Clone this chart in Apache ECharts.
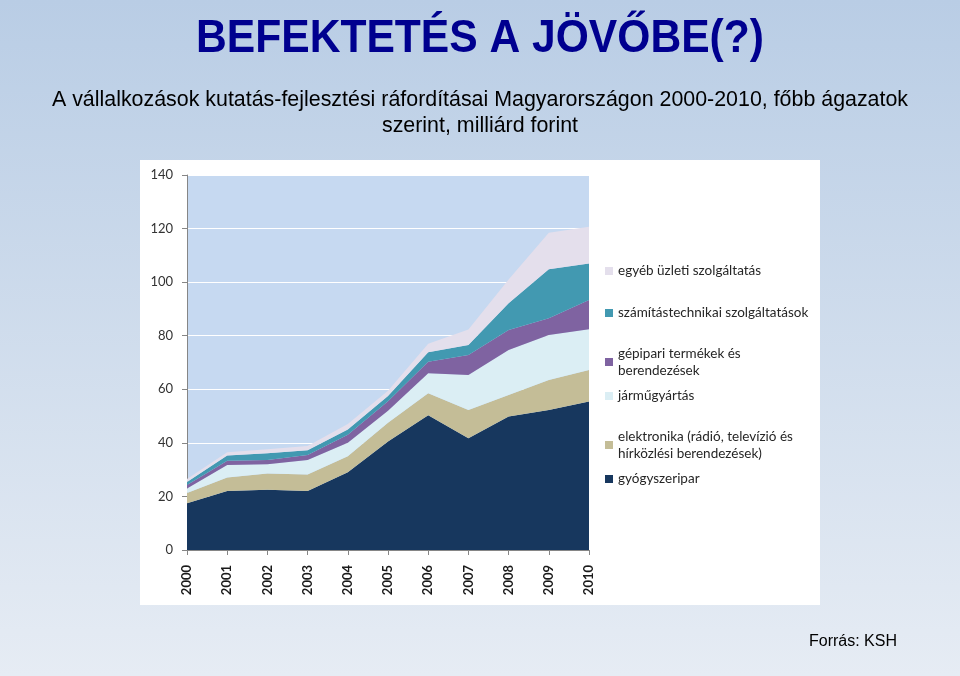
<!DOCTYPE html>
<html>
<head>
<meta charset="utf-8">
<script src="https://cdn.jsdelivr.net/npm/echarts@6/dist/echarts.min.js"></script>
<style>
html,body{margin:0;padding:0;}
#c{width:960px;height:676px;}
</style>
</head>
<body>
<div id="c"></div>
<script>
const years = ['2000','2001','2002','2003','2004','2005','2006','2007','2008','2009','2010'];
const gyogyszeripar = [17.5, 22.0, 22.5, 22.0, 29.0, 40.5, 50.3, 41.7, 49.8, 52.3, 55.4];
const elektronika   = [3.8, 5.1, 6.1, 6.2, 6.0, 7.0, 8.2, 10.6, 8.1, 11.2, 11.8];
const jarmugyartas  = [1.7, 4.6, 3.4, 5.4, 5.0, 4.5, 7.5, 13.0, 16.8, 16.8, 15.2];
const gepipari      = [1.3, 1.6, 1.6, 1.9, 3.0, 3.5, 4.3, 7.5, 7.4, 6.2, 10.9];
const szamitastech  = [1.1, 2.0, 2.5, 1.7, 2.0, 2.0, 3.5, 3.7, 10.0, 18.3, 13.7];
const egyeb         = [1.1, 1.2, 1.5, 1.6, 2.0, 2.0, 3.2, 5.8, 8.9, 13.6, 13.7];
const yTicks = {min: 0, max: 140, interval: 20};

const names = {
  gy: 'gyógyszeripar',
  el: 'elektronika (rádió, televízió és\nhírközlési berendezések)',
  ja: 'járműgyártás',
  ge: 'gépipari termékek és\nberendezések',
  sz: 'számítástechnikai szolgáltatások',
  eg: 'egyéb üzleti szolgáltatás'
};

const seriesDefs = [
  {name: names.gy, data: gyogyszeripar, color: '#17375E'},
  {name: names.el, data: elektronika,   color: '#C4BD97'},
  {name: names.ja, data: jarmugyartas,  color: '#DBEEF4'},
  {name: names.ge, data: gepipari,      color: '#7F63A1'},
  {name: names.sz, data: szamitastech,  color: '#4299B1'},
  {name: names.eg, data: egyeb,         color: '#E4DFEC'}
];

const FONT = 'Lato';
// legend positions: first-line center y
const legendPos = [
  {n: names.eg, y: 270, two: false},
  {n: names.sz, y: 312, two: false},
  {n: names.ge, y: 353, two: true},
  {n: names.ja, y: 395, two: false},
  {n: names.el, y: 436, two: true},
  {n: names.gy, y: 478, two: false}
];
const LH = 17;
const legends = legendPos.map(p => ({
  orient: 'vertical',
  left: 600,
  top: p.two ? p.y - 21.5 : p.y - 12.5,
  itemWidth: 8, itemHeight: 8, itemGap: 0,
  icon: 'rect',
  selectedMode: false,
  data: [p.n],
  textStyle: {
    fontFamily: FONT, fontSize: 13.5, color: '#262626', lineHeight: LH,
    padding: p.two ? [LH, 0, 0, 0] : [0, 0, 0, 0]
  }
}));

const chart = echarts.init(document.getElementById('c'));
chart.setOption({
  animation: false,
  backgroundColor: {
    type: 'linear', x: 0, y: 0, x2: 0, y2: 1,
    colorStops: [{offset: 0, color: '#B9CDE5'}, {offset: 1, color: '#E6ECF4'}]
  },
  graphic: [
    {type: 'rect', z: -10, shape: {x: 140, y: 160, width: 680, height: 445}, style: {fill: '#FFFFFF'}},
    {type: 'text', x: 480, y: 39, scaleX: 0.906,
      style: {text: 'BEFEKTETÉS A JÖVŐBE(?)', font: 'bold 47px "Liberation Sans", Arial', fill: '#00008F', align: 'center', verticalAlign: 'middle'}},
    {type: 'text', x: 480, y: 100,
      style: {text: 'A vállalkozások kutatás-fejlesztési ráfordításai Magyarországon 2000-2010, főbb ágazatok', font: '21.4px "Liberation Sans", Arial', fill: '#000000', align: 'center', verticalAlign: 'middle'}},
    {type: 'text', x: 480, y: 126,
      style: {text: 'szerint, milliárd forint', font: '21.4px "Liberation Sans", Arial', fill: '#000000', align: 'center', verticalAlign: 'middle'}},
    {type: 'text', x: 897, y: 642,
      style: {text: 'Forrás: KSH', font: '16px "Liberation Sans", Arial', fill: '#000000', align: 'right', verticalAlign: 'middle'}}
  ],
  grid: {left: 187, right: 371, top: 175, bottom: 126, show: true, backgroundColor: '#C6D9F1', borderWidth: 0},
  legend: legends,
  xAxis: {
    type: 'category', data: years, boundaryGap: false,
    axisLine: {show: true, lineStyle: {color: '#868686'}},
    axisTick: {show: true, length: 5, lineStyle: {color: '#868686'}},
    axisLabel: {rotate: 90, fontFamily: FONT, fontWeight: 'bold', fontSize: 13, color: '#1A1A1A', margin: 15},
    splitLine: {show: false}
  },
  yAxis: {
    type: 'value', min: yTicks.min, max: yTicks.max, interval: yTicks.interval,
    axisLine: {show: true, lineStyle: {color: '#868686'}},
    axisTick: {show: true, length: 5, lineStyle: {color: '#868686'}},
    axisLabel: {fontFamily: FONT, fontSize: 13, color: '#333333', margin: 14},
    splitLine: {show: true, lineStyle: {color: '#FFFFFF', width: 1}}
  },
  series: seriesDefs.map(s => ({
    name: s.name, type: 'line', stack: 'total', data: s.data,
    symbol: 'none', showSymbol: false,
    lineStyle: {width: 0},
    areaStyle: {color: s.color, opacity: 1},
    itemStyle: {color: s.color},
    emphasis: {disabled: true},
    z: 2
  }))
});
</script>
</body>
</html>
